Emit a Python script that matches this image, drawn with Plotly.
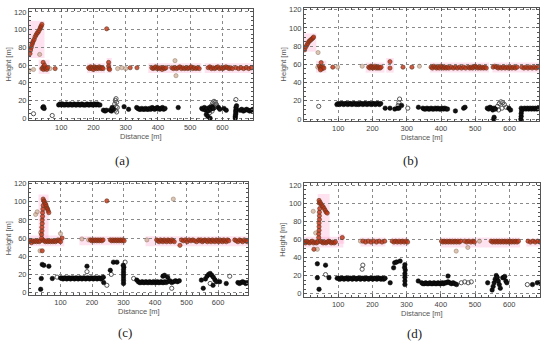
import plotly.graph_objects as go

# ---------------- Panel (a) ----------------
A_RED_X = [3, 5, 7, 9, 11, 13, 16, 19, 22, 25, 28, 31, 34, 36, 38, 40,
           40, 43, 45, 47, 50, 52, 55, 58, 44, 48,
           81, 241, 247, 247, 248, 250, 314, 335,
           185, 188, 191, 194, 197, 200, 203, 206, 209, 212, 215, 218, 221, 224, 227, 230,
           381, 385, 389, 393, 397, 401, 405, 409, 413, 417, 421, 425,
           443, 448, 453, 458, 463, 468, 473, 478, 483, 488, 493, 498, 503, 508, 513, 518, 523, 528,
           556, 561, 566, 571, 576, 581, 586, 591, 596, 601, 606, 611, 616, 621, 626, 631,
           642, 650, 658, 666, 674, 682, 690]
A_RED_Y = [73, 77, 80, 83, 85, 87, 89, 92, 94, 96, 97, 99, 101, 103, 104, 106,
           56, 57, 55, 58, 56, 57, 55, 57, 63, 60,
           56, 101, 63, 59, 56, 55, 57, 57,
           57, 56, 58, 56, 57, 55, 58, 57, 56, 57, 56, 58, 57, 56, 57, 56,
           57, 56, 57, 58, 56, 57, 56, 57, 55, 57, 56, 57,
           57, 56, 57, 56, 57, 58, 56, 57, 56, 57, 56, 57, 58, 56, 57, 56, 57, 56,
           57, 58, 56, 57, 56, 57, 58, 56, 57, 56, 57, 58, 57, 56, 57, 56,
           57, 56, 57, 56, 57, 56, 57]
A_TAN_X = [0, 14, 33, 65, 275, 288, 300, 453, 456]
A_TAN_Y = [54, 55, 72, 56, 56, 57, 56, 65, 48]
A_BLK_X = [43, 45, 47,
           92, 96, 100, 104, 108, 112, 116, 120, 124, 128, 132, 136, 140, 144, 148, 152, 156, 160,
           164, 168, 172, 176, 180, 184, 188, 192, 196, 200, 204, 208, 212, 216, 220,
           231, 236, 240, 252, 256, 262, 258, 295, 309,
           334, 338, 342, 346, 350, 354, 358, 362, 366, 370, 374, 378, 382, 386, 390, 394, 398,
           402, 406, 410, 414, 418, 422,
           463,
           536, 540, 544, 548, 552, 556, 560, 564, 568, 572, 588, 592, 550, 555, 562, 605, 612,
           640, 640, 641, 642, 641, 643, 642, 644,
           655, 660, 665, 670, 675, 680, 685, 690, 695]
A_BLK_Y = [12, 13, 11,
           15, 16, 15, 16, 15, 15, 16, 15, 15, 16, 15, 15, 16, 15, 15, 16, 15, 15,
           16, 15, 15, 15, 16, 15, 15, 16, 15, 15, 16, 15, 16, 15, 15,
           9, 8, 9, 9, 8, 10, 12, 13, 10,
           12, 11, 10, 10, 11, 10, 10, 11, 10, 10, 11, 10, 12, 11, 10, 11, 12,
           11, 10, 11, 12, 10, 11,
           12,
           11, 10, 12, 9, 11, 8, 12, 10, 13, 11, 12, 10, 4, 2, 0, 11, 9,
           0, 2, 4, 6, 8, 10, 12, 14,
           9, 10, 8, 9, 10, 9, 8, 9, 10]
A_OPEN_X = [14, 72, 268, 270, 272, 266, 270, 268, 272, 274, 566, 570, 574, 578, 582, 576, 580, 584, 568, 560, 642]
A_OPEN_Y = [5, 3, 20, 22, 18, 16, 13, 9, 7, 12, 14, 17, 19, 18, 15, 12, 16, 13, 8, 6, 21]
A_PINK = [[0, 48, 68, 110], [30, 64, 50, 66], [180, 236, 51, 62], [241, 257, 51, 68],
          [370, 535, 51, 62], [545, 700, 51, 62]]

# ---------------- Panel (b) ----------------
B_RED_X = [2, 5, 8, 11, 14, 17, 20, 23, 26, 28,
           45, 48, 50, 52, 55, 58, 50, 48, 84,
           189, 192, 195, 198, 201, 204, 207, 210, 213, 216, 219, 222, 225,
           251, 251, 289, 315,
           371, 375, 379, 383, 387, 391, 395, 399, 403, 407, 411, 415, 419, 423,
           430, 436, 442, 448, 454, 460, 466, 472,
           480, 484, 488, 492, 496, 500, 504, 508, 512, 516, 520, 524, 528, 532,
           552, 557, 562, 567, 572, 577, 582, 587, 592, 597, 602, 607, 612, 617, 622,
           636, 642, 648, 654, 660, 666, 672, 678, 684]
B_RED_Y = [76, 79, 81, 83, 85, 86, 87, 88, 89, 90,
           58, 56, 57, 55, 57, 56, 62, 54, 57,
           57, 56, 58, 57, 56, 57, 58, 56, 57, 56, 57, 56, 57,
           63, 56, 57, 57,
           57, 56, 58, 57, 56, 57, 56, 58, 57, 56, 57, 56, 57, 56,
           57, 56, 57, 56, 57, 56, 57, 56,
           57, 56, 57, 56, 57, 58, 57, 56, 57, 56, 57, 56, 57, 56,
           57, 58, 57, 56, 57, 56, 57, 56, 57, 56, 57, 56, 57, 56, 57,
           57, 56, 57, 56, 57, 56, 57, 56, 57]
B_TAN_X = [41, 98, 170, 337, 40]
B_TAN_Y = [73, 57, 58, 58, 57]
B_BLK_X = [96,
           100, 104, 108, 112, 116, 120, 124, 128, 132, 136, 140, 144, 148, 152, 156, 160,
           164, 168, 172, 176, 180, 184, 188, 192, 196, 200, 204, 208, 212, 216, 220, 224,
           237, 251, 265, 273, 277, 285, 334,
           347, 351, 355, 359, 363, 367, 371, 375, 379, 383, 387, 391, 395, 399, 403, 407, 411, 415, 419,
           442, 466, 470,
           535, 539, 543, 547, 551, 555, 559, 598, 603, 554, 555,
           633, 634, 634, 635, 634,
           640, 644, 648, 652, 656, 660, 664, 668, 672, 676, 680, 684]
B_BLK_Y = [16,
           17, 16, 17, 17, 16, 17, 17, 16, 17, 17, 16, 17, 17, 16, 17, 16,
           17, 17, 16, 17, 17, 16, 17, 17, 16, 17, 17, 16, 17, 17, 16, 17,
           12, 12, 11, 12, 12, 15, 13,
           12, 11, 11, 12, 11, 11, 12, 11, 11, 12, 11, 12, 11, 11, 12, 11, 12, 11, 11,
           9, 12, 13,
           12, 11, 13, 12, 10, 12, 11, 12, 10, 0, 2,
           0, 3, 6, 9, 12,
           11, 12, 11, 12, 11, 12, 11, 12, 11, 12, 11, 12]
B_OPEN_X = [43, 277, 279, 275, 303, 565, 570, 575, 580, 585, 590, 568, 578]
B_OPEN_Y = [14, 18, 22, 15, 12, 14, 17, 19, 18, 16, 13, 10, 12]
B_PINK = [[0, 36, 74, 94], [35, 65, 51, 64], [180, 235, 51, 62], [240, 262, 51, 67],
          [368, 540, 51, 62], [550, 690, 51, 62]]

# ---------------- Panel (c) ----------------
C_RED_X = [0, 4, 8, 12, 16, 20, 24, 28, 32, 36, 44, 48, 52, 56, 60, 64, 68, 72, 76, 80, 84, 88, 92, 96, 100,
           40, 40, 41, 41, 42, 42, 43, 43, 44, 45,
           45, 47, 49, 51, 53, 55, 57, 59, 61, 63,
           42, 105, 247,
           195, 199, 203, 207, 211, 215, 219, 223, 227, 231, 235,
           258, 262, 266, 270, 274, 278, 282, 286, 290, 294, 298, 302,
           405, 409, 413, 417, 421, 425, 429, 433, 437, 441, 445, 449, 453, 457, 461,
           479,
           484, 490, 496, 502, 508, 514, 520, 526, 532, 538,
           542, 546, 550, 554, 558, 562, 566, 570, 574, 578, 582, 586, 590, 594, 598, 602,
           606, 610, 614, 618, 622, 626, 630, 634,
           653, 658, 663, 668, 673, 678, 683, 688, 693]
C_RED_Y = [56, 57, 55, 57, 56, 57, 56, 57, 56, 57, 58, 57, 56, 57, 56, 57, 56, 57, 56, 57, 56, 57, 58, 57, 56,
           60, 64, 68, 72, 76, 80, 84, 88, 92, 96,
           103, 101, 100, 98, 97, 95, 93, 92, 90, 88,
           46, 60, 101,
           58, 57, 58, 57, 58, 57, 58, 57, 58, 57, 58,
           58, 57, 58, 57, 58, 57, 58, 57, 58, 57, 58, 57,
           58, 57, 56, 58, 57, 56, 58, 57, 56, 58, 57, 56, 58, 57, 56,
           52,
           58, 57, 58, 56, 58, 57, 58, 57, 56, 58,
           57, 58, 56, 57, 58, 57, 56, 58, 57, 56, 58, 57, 56, 58, 57, 56,
           58, 57, 56, 58, 57, 56, 58, 57,
           58, 57, 56, 58, 57, 56, 58, 57, 56]
C_TAN_X = [21, 26, 37, 35, 100, 168, 189, 374, 458]
C_TAN_Y = [86, 89, 66, 46, 65, 59, 58, 58, 103]
C_BLK_X = [42, 47, 63, 39, 37, 74,
           100, 104, 108, 112, 116, 120, 124, 128, 132, 136, 140, 144, 148, 152, 156, 160, 164, 168,
           172, 176, 180, 184, 188, 192, 196, 200, 204, 208, 212, 216, 220, 224, 228, 232, 236,
           184, 237, 258, 268, 279,
           300, 300, 300, 300, 300, 300, 301, 299,
           342,
           347, 351, 355, 359, 363, 367, 371, 375, 379, 383, 387, 391, 395, 399, 403, 407, 411,
           415, 419, 423, 427, 431, 435,
           441, 447, 453, 459, 465, 471, 477, 425, 430, 440,
           547, 553, 584, 605, 626,
           560, 565, 570, 575, 580, 585, 590, 595,
           663, 668, 673, 678, 683, 688, 693]
C_BLK_Y = [31, 30, 29, 15.5, 3.6, 15.5,
           16, 16, 15, 16, 16, 15, 16, 16, 15, 16, 16, 15, 16, 16, 15, 16, 16, 15,
           16, 16, 15, 16, 16, 15, 16, 16, 15, 16, 16, 15, 16, 16, 15, 16, 17,
           29, 11, 24.5, 33.5, 33.5,
           10, 13, 16, 19, 22, 25, 28, 30,
           13.7,
           12, 11, 11, 12, 11, 11, 12, 11, 11, 12, 11, 11, 12, 11, 11, 12, 11,
           11, 12, 11, 11, 12, 11,
           12, 13, 11, 12, 13, 12, 13, 18, 19, 17,
           13.7, 4.7, 8, 12, 10,
           15, 18, 20, 21, 19, 17, 14, 12,
           11, 10, 11, 12, 11, 10, 11]
C_OPEN_X = [89, 184, 247, 261, 305, 332, 453, 637, 575]
C_OPEN_Y = [17, 23, 8, 20, 33.5, 15.5, 4.7, 18, 10]
C_PINK = [[0, 112, 51, 63], [30, 62, 55, 108], [160, 305, 52, 62], [370, 700, 51, 62]]

# ---------------- Panel (d) ----------------
D_RED_X = [0, 4, 8, 12, 16, 20, 24, 28, 32, 36, 40, 48, 52, 56, 60, 64, 68, 72, 76, 80, 84, 88, 92,
           43, 43, 44, 44, 44, 45, 45, 45, 46, 45, 44,
           47, 50, 53, 56, 59, 62, 65, 68,
           29, 112,
           172, 180, 188, 196, 204, 212, 220, 228, 236,
           258, 263, 268, 273, 278, 283, 288, 293, 298, 303,
           402, 406, 410, 414, 418, 422, 426, 430, 434, 438, 442, 446, 450, 454, 458,
           470, 476, 482, 488, 494, 498,
           547, 551, 555, 559, 563, 567, 571, 575, 579, 583, 587, 591, 595, 599, 603, 607,
           611, 615, 619, 623, 627,
           655, 662, 669, 676, 683, 690]
D_RED_Y = [57, 56, 58, 57, 56, 57, 58, 56, 57, 56, 57, 58, 57, 56, 57, 56, 57, 58, 57, 56, 57, 56, 57,
           62, 66, 70, 74, 78, 82, 86, 90, 94, 100, 103,
           101, 99, 97, 96, 94, 92, 90, 89,
           49, 62,
           58, 57, 58, 57, 58, 57, 58, 57, 58,
           58, 57, 58, 57, 58, 57, 58, 57, 58, 57,
           58, 57, 58, 57, 58, 57, 58, 57, 58, 57, 58, 57, 58, 57, 58,
           58, 57, 58, 57, 58, 57,
           58, 57, 58, 57, 58, 57, 58, 57, 58, 57, 58, 57, 58, 57, 58, 57,
           58, 57, 58, 57, 58,
           58, 57, 58, 57, 58, 57]
D_TAN_X = [27, 34, 39, 165, 445, 479, 40, 513]
D_TAN_Y = [91, 67, 49, 58, 47, 51, 57, 58]
D_BLK_X = [39, 63, 39, 44, 73,
           97, 101, 105, 109, 113, 117, 121, 125, 129, 133, 137, 141, 145, 149, 153, 157, 161, 165,
           169, 173, 177, 181, 185, 189, 193, 197, 201, 205, 209, 213, 217, 221, 225, 229, 233, 237,
           252, 262, 265, 271, 281,
           295, 295, 295, 295, 296, 294, 295,
           334,
           344, 348, 352, 356, 360, 364, 368, 372, 376, 380, 384, 388, 392, 396, 400, 404, 408, 412,
           416, 421, 426, 431, 436, 441, 446, 421,
           537,
           550, 553, 556, 559, 562, 565, 568, 571, 574,
           581, 584, 587, 590, 593,
           668, 682, 692]
D_BLK_Y = [33, 31.5, 17.6, 4.8, 17.6,
           17, 17, 16, 17, 17, 16, 17, 17, 16, 17, 17, 16, 17, 17, 16, 17, 17, 16,
           17, 17, 16, 17, 17, 16, 17, 17, 16, 17, 17, 16, 17, 17, 16, 17, 16, 17,
           12, 28.5, 34, 35, 36,
           10, 14, 18, 22, 26, 29, 32,
           14,
           12, 11, 11, 12, 11, 11, 12, 11, 11, 12, 11, 11, 12, 11, 11, 12, 11, 12,
           12, 13, 12, 11, 12, 11, 10, 19.4,
           12,
           4, 8, 12, 16, 20, 18, 14, 10, 6,
           17.6, 18, 19, 14, 12,
           10, 12, 11]
D_OPEN_X = [63, 170, 172, 460, 470, 480, 489, 653]
D_OPEN_Y = [21, 27, 31.5, 12, 13, 12, 13, 10]
D_PINK = [[0, 115, 51, 63], [40, 75, 55, 110], [100, 118, 55, 66], [165, 238, 52, 62],
          [257, 305, 52, 62], [400, 632, 51, 62], [650, 692, 52, 61]]

PANEL_LABELS = ["(a)", "(b)", "(c)", "(d)"]
X_TICKS = [100, 200, 300, 400, 500, 600]
Y_TICKS = [0, 20, 40, 60, 80, 100, 120]

DATA = [
    (A_RED_X, A_RED_Y, A_TAN_X, A_TAN_Y, A_BLK_X, A_BLK_Y, A_OPEN_X, A_OPEN_Y, A_PINK),
    (B_RED_X, B_RED_Y, B_TAN_X, B_TAN_Y, B_BLK_X, B_BLK_Y, B_OPEN_X, B_OPEN_Y, B_PINK),
    (C_RED_X, C_RED_Y, C_TAN_X, C_TAN_Y, C_BLK_X, C_BLK_Y, C_OPEN_X, C_OPEN_Y, C_PINK),
    (D_RED_X, D_RED_Y, D_TAN_X, D_TAN_Y, D_BLK_X, D_BLK_Y, D_OPEN_X, D_OPEN_Y, D_PINK),
]

# ---------------- Layout geometry (pixels in a 550x344 figure) ----------------
W, H = 550, 344
GEOM = [
    dict(px=(29, 253), py=(6, 119), xr=[0, 695], yr=[-2, 123.5], lab=(122, 160), ytl=8, xtl=136),
    dict(px=(304, 539), py=(5, 120), xr=[0, 686], yr=[-2, 122], lab=(410, 160), ytl=283, xtl=137),
    dict(px=(29, 248), py=(182, 297), xr=[0, 695], yr=[-2.5, 122], lab=(125, 335), ytl=8, xtl=314),
    dict(px=(304, 540), py=(183, 299), xr=[0, 690], yr=[-3.5, 122.5], lab=(414, 336), ytl=283, xtl=316),
]

fig = go.Figure()
shapes = []
annotations = []
layout_axes = {}

AX_COLOR = "#555555"
TICK_FONT = dict(family="Liberation Sans, Arial, sans-serif", size=7.5, color="#444444")
MS = 4.2

for i, (g, d) in enumerate(zip(GEOM, DATA)):
    rx, ry, tx, ty, bx, by, ox, oy, pink = d
    n = "" if i == 0 else str(i + 1)
    xa, ya = "x" + n, "y" + n
    xdom = [g["px"][0] / W, g["px"][1] / W]
    ydom = [1 - g["py"][1] / H, 1 - g["py"][0] / H]
    common = dict(showline=True, linecolor=AX_COLOR, linewidth=1, mirror="allticks",
                  ticks="inside", ticklen=3, tickcolor=AX_COLOR, tickwidth=1,
                  showgrid=True, gridcolor="#8a8a8a", griddash="dot", gridwidth=1,
                  zeroline=False, tickfont=TICK_FONT, fixedrange=True)
    layout_axes["xaxis" + n] = dict(domain=xdom, range=g["xr"], anchor=ya,
                                    tickmode="array", tickvals=X_TICKS,
                                    minor=dict(ticks="inside", ticklen=2, dtick=20, tick0=0,
                                               tickcolor=AX_COLOR, showgrid=False),
                                    **common)
    layout_axes["yaxis" + n] = dict(domain=ydom, range=g["yr"], anchor=xa,
                                    tickmode="array", tickvals=Y_TICKS,
                                    minor=dict(ticks="inside", ticklen=2, dtick=5, tick0=0,
                                               tickcolor=AX_COLOR, showgrid=False),
                                    **common)
    for (x0, x1, y0, y1) in pink:
        shapes.append(dict(type="rect", xref=xa, yref=ya, x0=x0, x1=x1, y0=y0, y1=y1,
                           fillcolor="rgba(255,160,205,0.30)", line=dict(width=0), layer="below"))
    fig.add_trace(go.Scatter(x=tx, y=ty, mode="markers", xaxis=xa, yaxis=ya, showlegend=False,
                             marker=dict(size=MS, color="rgba(195,160,130,0.6)",
                                         line=dict(width=0.6, color="rgba(140,110,90,0.8)"))))
    fig.add_trace(go.Scatter(x=rx, y=ry, mode="markers", xaxis=xa, yaxis=ya, showlegend=False,
                             marker=dict(size=MS, color="rgba(195,50,20,0.8)",
                                         line=dict(width=0.7, color="rgba(100,55,30,0.9)"))))
    fig.add_trace(go.Scatter(x=ox, y=oy, mode="markers", xaxis=xa, yaxis=ya, showlegend=False,
                             marker=dict(size=MS, symbol="circle-open", color="#555555",
                                         line=dict(width=1))))
    fig.add_trace(go.Scatter(x=bx, y=by, mode="markers", xaxis=xa, yaxis=ya, showlegend=False,
                             marker=dict(size=MS + 0.3, color="#111111",
                                         line=dict(width=0.5, color="#000000"))))
    cx = (g["px"][0] + g["px"][1]) / 2 / W
    cy = 1 - (g["py"][0] + g["py"][1]) / 2 / H
    annotations.append(dict(text="Height [m]", textangle=-90, xref="paper", yref="paper",
                            x=g["ytl"] / W, y=cy, showarrow=False, xanchor="center", yanchor="middle",
                            font=dict(family="Liberation Sans, Arial, sans-serif", size=7.5, color="#555555")))
    annotations.append(dict(text="Distance [m]", xref="paper", yref="paper",
                            x=cx, y=1 - g["xtl"] / H, showarrow=False, xanchor="center", yanchor="middle",
                            font=dict(family="Liberation Sans, Arial, sans-serif", size=7.5, color="#555555")))
    annotations.append(dict(text=PANEL_LABELS[i], xref="paper", yref="paper",
                            x=g["lab"][0] / W, y=1 - g["lab"][1] / H, showarrow=False,
                            xanchor="center", yanchor="middle",
                            font=dict(family="Liberation Serif, DejaVu Serif, serif", size=13, color="#222222")))

fig.update_layout(width=W, height=H, autosize=False,
                  margin=dict(l=0, r=0, t=0, b=0, pad=0),
                  paper_bgcolor="white", plot_bgcolor="white",
                  shapes=shapes, annotations=annotations, **layout_axes)

fig.write_html("out.html", config={"displayModeBar": False},
               post_script="document.body.style.margin='0';document.body.style.padding='0';"
                           "document.body.style.overflow='hidden';")
